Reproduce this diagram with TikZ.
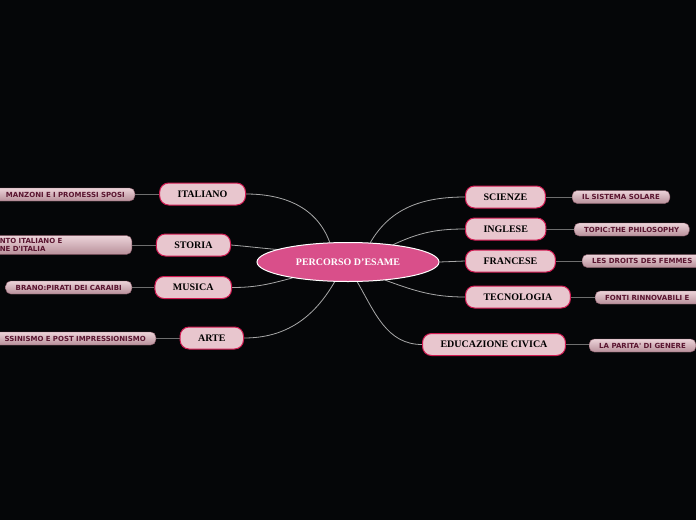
\documentclass[tikz,border=0pt]{standalone}
\usepackage{fontspec}
\setmainfont{Liberation Serif}
\newfontfamily\leaffont{DejaVu Sans}
\usetikzlibrary{shapes.geometric,backgrounds}
\definecolor{bg}{HTML}{050608}
\definecolor{mainfill}{HTML}{E8C6CE}
\definecolor{mainborder}{HTML}{D11A52}
\definecolor{centerfill}{HTML}{D94F8A}
\definecolor{leaftop}{HTML}{ECD3D9}
\definecolor{leafbot}{HTML}{B8909A}
\definecolor{leafborder}{HTML}{8A5A68}
\definecolor{leaftext}{HTML}{5A1530}
\definecolor{linkgray}{HTML}{A8A8A8}
\definecolor{subgray}{HTML}{6E6E6E}
\begin{document}
\begin{tikzpicture}[x=1pt,y=1pt,
  mainbox/.style={draw=mainborder, line width=1pt, fill=mainfill, rounded corners=9pt,
    minimum height=22pt, inner xsep=18pt, inner ysep=2pt,
    font=\fontsize{10}{12}\selectfont\bfseries, text=black},
  leafbox/.style={draw=leafborder, line width=0.4pt, top color=leaftop, bottom color=leafbot,
    rounded corners=5pt, minimum height=13pt, inner xsep=10pt, inner ysep=1.5pt,
    font=\leaffont\bfseries\fontsize{7}{8.5}\selectfont, text=leaftext},
  centerbox/.style={ellipse, draw=white, line width=1pt, fill=centerfill,
    minimum width=182pt, minimum height=39pt, inner sep=0pt, text=white,
    font=\fontsize{10}{12}\selectfont\bfseries},
  link/.style={draw=linkgray, line width=0.8pt},
  sublink/.style={draw=subgray, line width=0.8pt}]
\clip (0,0) rectangle (696,-520);
\useasboundingbox (0,0) rectangle (696,-520);

% centre
\node[centerbox] (c) at (348,-262) {PERCORSO D'ESAME};

% main topics left
\node[mainbox, anchor=east] (ital) at (246,-194) {ITALIANO};
\node[mainbox, anchor=east] (stor) at (231,-245) {STORIA};
\node[mainbox, anchor=east] (musi) at (232,-287.5) {MUSICA};
\node[mainbox, anchor=east] (arte) at (244,-338) {ARTE};
% main topics right
\node[mainbox, anchor=west] (scie) at (465,-197) {SCIENZE};
\node[mainbox, anchor=west] (ingl) at (465,-229) {INGLESE};
\node[mainbox, anchor=west] (fran) at (465,-261) {FRANCESE};
\node[mainbox, anchor=west] (tecn) at (465,-297) {TECNOLOGIA};
\node[mainbox] (educ) at (494,-344.5) {EDUCAZIONE CIVICA};

% leaves left
\node[leafbox, anchor=east, text width=140pt, align=right] (l1) at (135,-194.5) {MANZONI E I PROMESSI SPOSI};
\node[leafbox, anchor=east, text width=122pt, align=left, inner ysep=2.5pt] (l2) at (132,-245) {NTO ITALIANO E\\NE D'ITALIA};
\node[leafbox, anchor=east] (l3) at (132,-287.5) {BRANO:PIRATI DEI CARAIBI};
\node[leafbox, anchor=east, text width=170pt, align=right] (l4) at (156,-338.5) {SSINISMO E POST IMPRESSIONISMO};
% leaves right
\node[leafbox, anchor=west] (r1) at (572,-197) {IL SISTEMA SOLARE};
\node[leafbox, anchor=west] (r2) at (574,-229.5) {TOPIC:THE PHILOSOPHY};
\node[leafbox, anchor=west] (r3) at (582,-261) {LES DROITS DES FEMMES};
\node[leafbox, anchor=west, text width=110pt, align=left] (r4) at (595,-297.5) {FONTI RINNOVABILI E};
\node[leafbox, anchor=west] (r5) at (589,-345.5) {LA PARITA' DI GENERE};

\begin{scope}[on background layer]
\fill[bg] (0,0) rectangle (696,-520);
\draw[link] (c.133) to[out=110,in=0] (ital.east);
\draw[link] (c.170) to[out=175,in=-5] (stor.east);
\draw[link] (c.196) to[out=195,in=0] (musi.east);
\draw[link] (c.236) to[out=240,in=0] (arte.east);
\draw[link] (c.41) to[out=60,in=180] (scie.west);
\draw[link] (c.21) to[out=25,in=180] (ingl.west);
\draw[link] (c.east) -- (fran.west);
\draw[link] (c.-26) to[out=-20,in=180] (tecn.west);
\draw[link] (c.-65) to[out=-60,in=180] (educ.west);
\draw[sublink] (ital.west) -- (ital.west -| l1.east);
\draw[sublink] (stor.west) -- (stor.west -| l2.east);
\draw[sublink] (musi.west) -- (musi.west -| l3.east);
\draw[sublink] (arte.west) -- (arte.west -| l4.east);
\draw[sublink] (scie.east) -- (scie.east -| r1.west);
\draw[sublink] (ingl.east) -- (ingl.east -| r2.west);
\draw[sublink] (fran.east) -- (fran.east -| r3.west);
\draw[sublink] (tecn.east) -- (tecn.east -| r4.west);
\draw[sublink] (educ.east) -- (educ.east -| r5.west);
\end{scope}
\end{tikzpicture}
\end{document}
